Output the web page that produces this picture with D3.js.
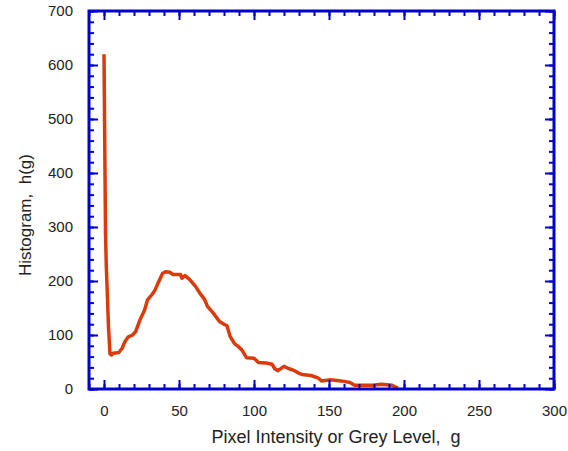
<!DOCTYPE html>
<html>
<head>
<meta charset="utf-8">
<title>Histogram</title>
<script src="https://cdn.jsdelivr.net/npm/d3@7"></script>
<style>
  body { margin: 0; background: #fff; }
  .tick text { font-family: "Liberation Sans", Arial, sans-serif; font-size: 15px; fill: #222; }
  .lbl { font-family: "Liberation Sans", Arial, sans-serif; fill: #222; white-space: pre; }
</style>
</head>
<body>
<script>
// grey level g and histogram count h(g)
var greyLevel = [0, 1, 1.5, 3, 4, 5, 6, 9, 10, 12, 14, 16, 19, 21, 24, 27, 29, 32, 34, 36, 37, 39, 41, 44, 46, 48, 51, 52, 54, 57, 61, 64, 67, 69, 73, 77, 80, 82, 84, 87, 89, 92, 95, 100, 103, 108, 112, 114, 116, 120, 123, 127, 130, 132, 138, 143, 145, 151, 158, 164, 167, 179, 185, 192, 194, 196];
var counts = [620, 290, 230, 115, 65, 63, 66, 67, 68, 75, 88, 96, 100, 106, 128, 146, 165, 175, 183, 196, 202, 214, 217, 216, 212, 212, 212, 205, 210, 203, 190, 177, 166, 153, 140, 125, 120, 117, 98, 84, 80, 72, 58, 57, 49, 48, 46, 37, 34, 42, 38, 34, 29, 27, 25, 20, 15, 17, 15, 12, 7, 7, 9, 7, 4, 2];

var xMajor = [0, 50, 100, 150, 200, 250, 300];
var xMinor = d3.range(-10, 301, 10);
var yMajor = [0, 100, 200, 300, 400, 500, 600, 700];
var yMinor = d3.range(0, 701, 20);

var width = 568, height = 451;
var plotL = 89, plotR = 554, plotT = 11, plotB = 389;
var blue = "#0000cd";

var svg = d3.select("body").append("svg")
    .attr("width", width)
    .attr("height", height);

var x = d3.scaleLinear().domain([-10, 300]).range([plotL, plotR]);
var y = d3.scaleLinear().domain([0, 700]).range([plotB, plotT]);

// curve first, frame and ticks drawn on top
var line = d3.line()
    .x(function (d) { return x(d[0]); })
    .y(function (d) { return y(d[1]); });

svg.append("path")
    .datum(d3.zip(greyLevel, counts))
    .attr("d", line)
    .attr("fill", "none")
    .attr("stroke", "#db3b0b")
    .attr("stroke-width", 3.5)
    .attr("stroke-linejoin", "round");

function styleAxis(g) {
    g.select(".domain").remove();
    g.selectAll(".tick line").attr("stroke", blue).attr("stroke-width", 2);
}

// bottom
svg.append("g").attr("transform", "translate(0," + plotB + ")")
    .call(d3.axisBottom(x).tickValues(xMinor).tickSize(-5).tickFormat(""))
    .call(styleAxis);
svg.append("g").attr("transform", "translate(0," + plotB + ")")
    .call(d3.axisBottom(x).tickValues(xMajor).tickSize(-9).tickPadding(16).tickFormat(d3.format("d")))
    .call(styleAxis);
// top
svg.append("g").attr("transform", "translate(0," + plotT + ")")
    .call(d3.axisTop(x).tickValues(xMinor).tickSize(-5).tickFormat(""))
    .call(styleAxis);
svg.append("g").attr("transform", "translate(0," + plotT + ")")
    .call(d3.axisTop(x).tickValues(xMajor).tickSize(-9).tickFormat(""))
    .call(styleAxis);
// left
svg.append("g").attr("transform", "translate(" + plotL + ",0)")
    .call(d3.axisLeft(y).tickValues(yMinor).tickSize(-5).tickFormat(""))
    .call(styleAxis);
svg.append("g").attr("transform", "translate(" + plotL + ",0)")
    .call(d3.axisLeft(y).tickValues(yMajor).tickSize(-9).tickPadding(16).tickFormat(d3.format("d")))
    .call(styleAxis);
// right
svg.append("g").attr("transform", "translate(" + plotR + ",0)")
    .call(d3.axisRight(y).tickValues(yMinor).tickSize(-5).tickFormat(""))
    .call(styleAxis);
svg.append("g").attr("transform", "translate(" + plotR + ",0)")
    .call(d3.axisRight(y).tickValues(yMajor).tickSize(-9).tickFormat(""))
    .call(styleAxis);

svg.append("rect")
    .attr("x", plotL)
    .attr("y", plotT)
    .attr("width", plotR - plotL)
    .attr("height", plotB - plotT)
    .attr("fill", "none")
    .attr("stroke", blue)
    .attr("stroke-width", 3);

svg.append("text")
    .attr("class", "lbl")
    .attr("x", 336)
    .attr("y", 443)
    .attr("font-size", "18px")
    .attr("text-anchor", "middle")
    .text("Pixel Intensity or Grey Level,  g");

svg.append("text")
    .attr("class", "lbl")
    .attr("transform", "translate(31,215) rotate(-90)")
    .attr("font-size", "17px")
    .attr("text-anchor", "middle")
    .text("Histogram,  h(g)");
</script>
</body>
</html>
